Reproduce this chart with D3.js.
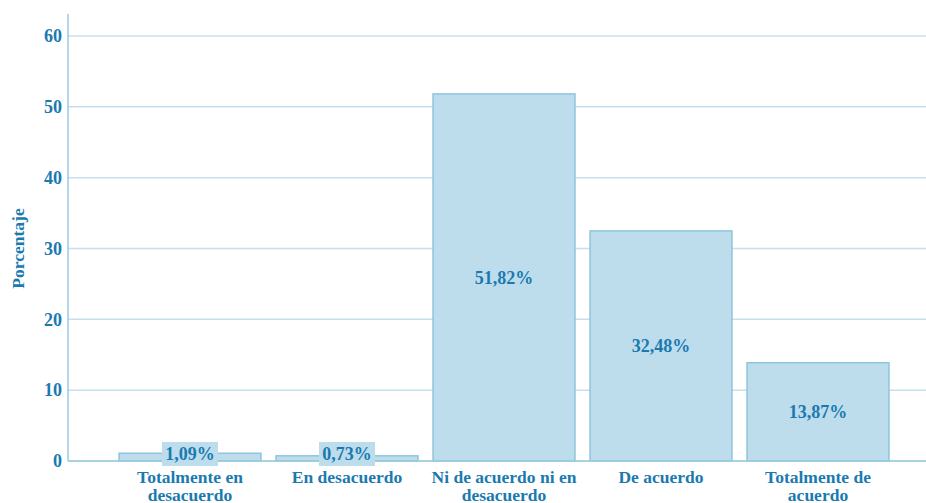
<!DOCTYPE html>
<html><head><meta charset="utf-8">
<script src="https://cdn.jsdelivr.net/npm/d3@7"></script>
<style>body{margin:0;background:#fff}svg{display:block}
text{font-family:"Liberation Serif","Times New Roman",serif;font-weight:bold}</style>
</head><body><div id="c"></div>
<script>
const categories = [["Totalmente en","desacuerdo"],["En desacuerdo"],["Ni de acuerdo ni en","desacuerdo"],["De acuerdo"],["Totalmente de","acuerdo"]];
const values = [1.09, 0.73, 51.82, 32.48, 13.87];
const valueLabels = ["1,09%","0,73%","51,82%","32,48%","13,87%"];
const yTicks = [0,10,20,30,40,50,60];
const yTitle = "Porcentaje";

const W=926,H=503;
const txt="#1a7ab0", barFill="#bddded", barStroke="#8ec4dc", grid="#c4e0ed", axisC="#9dcbe0";
const svg=d3.select("#c").append("svg").attr("width",W).attr("height",H);
const x0=68, y0=461;
const y=d3.scaleLinear().domain([0,60]).range([y0,36]);
const x=d3.scaleBand().domain(d3.range(values.length)).range([111.5,896.5]).paddingInner(0.096).paddingOuter(0.048);

svg.append("g").selectAll("line").data(yTicks).join("line")
 .attr("x1",x0).attr("x2",W).attr("y1",d=>y(d)).attr("y2",d=>y(d))
 .attr("stroke",grid).attr("stroke-width",1.5);
svg.append("line").attr("x1",x0).attr("x2",x0).attr("y1",y(63.1)).attr("y2",y0).attr("stroke",axisC).attr("stroke-width",1.5);
svg.append("g").selectAll("text").data(yTicks).join("text")
 .attr("x",62).attr("y",d=>y(d)).attr("dy","0.35em").attr("text-anchor","end")
 .attr("fill",txt).attr("font-size",18).text(d=>d);
svg.append("text").attr("transform",`translate(18,${(y0+36)/2}) rotate(-90)`).attr("text-anchor","middle")
 .attr("dy","0.35em").attr("fill",txt).attr("font-size",17.5).text(yTitle);

svg.append("g").selectAll("rect").data(values).join("rect")
 .attr("x",(d,i)=>x(i)).attr("width",x.bandwidth())
 .attr("y",d=>y(d)).attr("height",d=>y0-y(d))
 .attr("fill",barFill).attr("stroke",barStroke).attr("stroke-width",1.5);
svg.append("line").attr("x1",x0).attr("x2",W).attr("y1",y0).attr("y2",y0).attr("stroke",axisC).attr("stroke-width",1.5);

const lg=svg.append("g").selectAll("g").data(values).join("g")
 .attr("transform",(d,i)=>`translate(${x(i)+x.bandwidth()/2},${Math.min((y(d)+y0)/2, y0-7)})`);
lg.append("rect").attr("x",-28).attr("y",-12).attr("width",56).attr("height",24).attr("fill",barFill);
lg.append("text").attr("text-anchor","middle").attr("dy","0.35em")
 .attr("fill",txt).attr("font-size",18).text((d,i)=>valueLabels[i]);

const xl=svg.append("g").selectAll("text").data(categories).join("text")
 .attr("x",(d,i)=>x(i)+x.bandwidth()/2).attr("y",483).attr("text-anchor","middle")
 .attr("fill",txt).attr("font-size",17.5);
xl.selectAll("tspan").data(d=>d).join("tspan")
 .attr("x",function(){return this.parentNode.getAttribute("x");})
 .attr("dy",(d,i)=>i?18:0).text(d=>d);
</script></body></html>
